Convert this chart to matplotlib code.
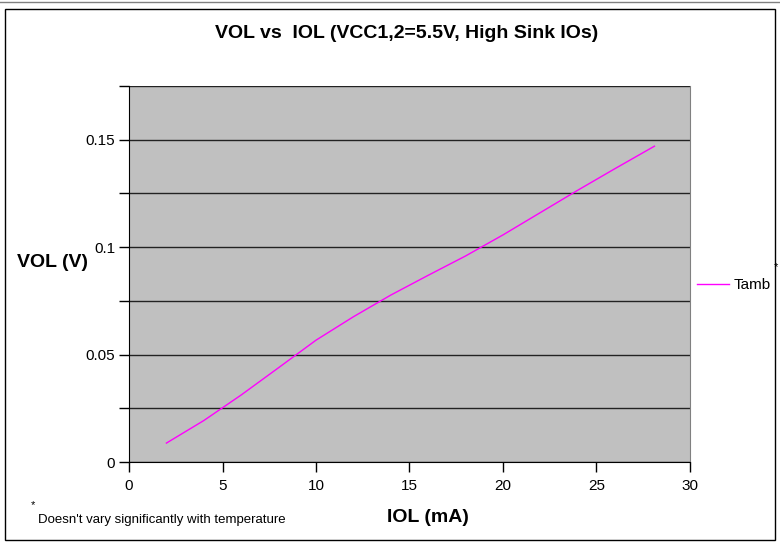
import matplotlib.pyplot as plt
import matplotlib.patches as patches
import numpy as np

plt.rcParams['font.family'] = ['Liberation Sans', 'DejaVu Sans']

IOL = [2, 4, 6, 8, 10, 12, 14, 16, 18, 20, 22, 24, 26, 28.1]
VOL = [0.0088, 0.0193, 0.0312, 0.0439, 0.0567, 0.0676, 0.0777, 0.0869, 0.0959, 0.1057, 0.1161, 0.1265, 0.1366, 0.147]

X_TICKS = [0, 5, 10, 15, 20, 25, 30]
Y_TICKS = np.arange(0, 0.176, 0.025)
Y_LABELS = ["0", "", "0.05", "", "0.1", "", "0.15", ""]

fig = plt.figure(figsize=(7.8, 5.42), dpi=100)
ax = fig.add_axes([0.1654, 0.1476, 0.7192, 0.6937])

ax.set_facecolor("#c0c0c0")
ax.plot(IOL, VOL, color="#ff00ff", lw=1, label="Tamb", zorder=3)

ax.set_xlim(0, 30)
ax.set_ylim(0, 0.175)
ax.set_xticks(X_TICKS)
ax.set_yticks(Y_TICKS)
ax.set_yticklabels(Y_LABELS)
ax.tick_params(axis="both", direction="out", length=7, width=1, labelsize=11, colors="black")
ax.tick_params(axis="x", pad=5)
ax.tick_params(axis="y", pad=3)
ax.grid(axis="y", color="#222222", lw=1)
ax.set_axisbelow(True)
ax.spines["top"].set_visible(False)
ax.spines["right"].set_color("#808080")

fig.text(0.521, 0.938, "VOL vs  IOL (VCC1,2=5.5V, High Sink IOs)", ha="center", va="center",
         fontsize=14, fontweight="bold")
fig.text(0.067, 0.516, "VOL (V)", ha="center", va="center", fontsize=14, fontweight="bold")
fig.text(0.549, 0.046, "IOL (mA)", ha="center", va="center", fontsize=14, fontweight="bold")
fig.text(0.049, 0.040, "Doesn't vary significantly with temperature", ha="left", va="center", fontsize=9.5)
fig.text(0.039, 0.068, "*", ha="left", va="center", fontsize=8)

ax.legend(loc="center left", bbox_to_anchor=(0.893, 0.474), bbox_transform=fig.transFigure,
          frameon=False, fontsize=11, handlelength=2.1, handletextpad=0.3,
          borderpad=0, borderaxespad=0)
fig.text(0.992, 0.508, "*", ha="left", va="center", fontsize=8)

fig.patches.append(patches.Rectangle((0.006, 0.003), 0.988, 0.98, transform=fig.transFigure,
                                     fill=False, edgecolor="black", lw=1))
fig.lines.append(plt.Line2D([0, 1], [0.996, 0.996], transform=fig.transFigure, color="#808080", lw=1))

fig.savefig("out.png", dpi=100)
